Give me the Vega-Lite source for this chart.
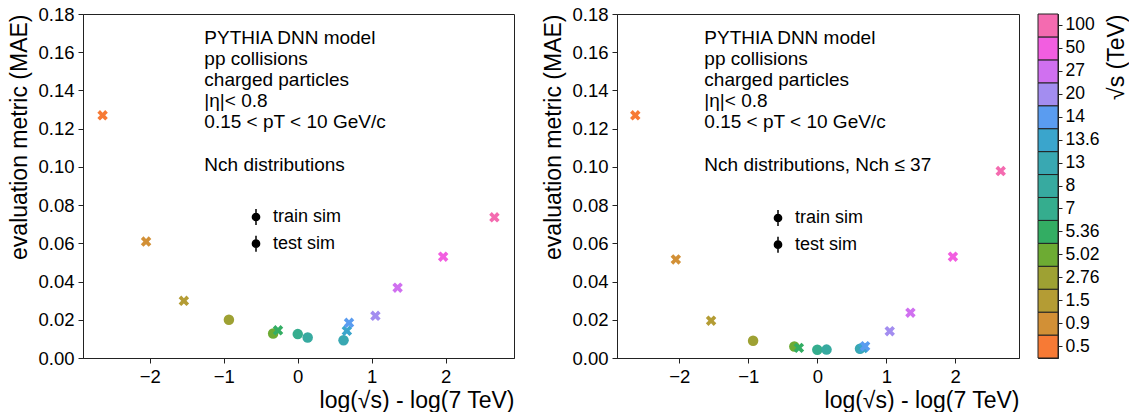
{
  "$schema": "https://vega.github.io/schema/vega-lite/v6.json",
  "padding": {"left": 8, "top": 4, "right": 0, "bottom": 0},
  "background": "white",
  "datasets": {
    "left": [
      {"E": "0.5", "x": -2.639, "mae": 0.127, "sim": "test sim"},
      {"E": "0.9", "x": -2.051, "mae": 0.0609, "sim": "test sim"},
      {"E": "1.5", "x": -1.540, "mae": 0.0299, "sim": "test sim"},
      {"E": "2.76", "x": -0.931, "mae": 0.0200, "sim": "train sim"},
      {"E": "5.02", "x": -0.333, "mae": 0.0128, "sim": "train sim"},
      {"E": "5.36", "x": -0.267, "mae": 0.0145, "sim": "test sim"},
      {"E": "7", "x": 0.0, "mae": 0.0125, "sim": "train sim"},
      {"E": "8", "x": 0.134, "mae": 0.0107, "sim": "train sim"},
      {"E": "13", "x": 0.619, "mae": 0.0093, "sim": "train sim"},
      {"E": "13.6", "x": 0.664, "mae": 0.0142, "sim": "test sim"},
      {"E": "14", "x": 0.693, "mae": 0.0184, "sim": "test sim"},
      {"E": "20", "x": 1.050, "mae": 0.0221, "sim": "test sim"},
      {"E": "27", "x": 1.350, "mae": 0.0368, "sim": "test sim"},
      {"E": "50", "x": 1.966, "mae": 0.0530, "sim": "test sim"},
      {"E": "100", "x": 2.659, "mae": 0.0736, "sim": "test sim"}
    ],
    "right": [
      {"E": "0.5", "x": -2.639, "mae": 0.127, "sim": "test sim"},
      {"E": "0.9", "x": -2.051, "mae": 0.0516, "sim": "test sim"},
      {"E": "1.5", "x": -1.540, "mae": 0.0195, "sim": "test sim"},
      {"E": "2.76", "x": -0.931, "mae": 0.0090, "sim": "train sim"},
      {"E": "5.02", "x": -0.333, "mae": 0.0060, "sim": "train sim"},
      {"E": "5.36", "x": -0.267, "mae": 0.0053, "sim": "test sim"},
      {"E": "7", "x": 0.0, "mae": 0.0043, "sim": "train sim"},
      {"E": "8", "x": 0.134, "mae": 0.0044, "sim": "train sim"},
      {"E": "13", "x": 0.619, "mae": 0.0048, "sim": "train sim"},
      {"E": "13.6", "x": 0.664, "mae": 0.0052, "sim": "test sim"},
      {"E": "14", "x": 0.693, "mae": 0.0062, "sim": "test sim"},
      {"E": "20", "x": 1.050, "mae": 0.0140, "sim": "test sim"},
      {"E": "27", "x": 1.350, "mae": 0.0237, "sim": "test sim"},
      {"E": "50", "x": 1.966, "mae": 0.0530, "sim": "test sim"},
      {"E": "100", "x": 2.659, "mae": 0.0978, "sim": "test sim"}
    ]
  },
  "config": {
    "font": "Liberation Sans",
    "view": {"stroke": "#222", "strokeWidth": 1},
    "axis": {
      "grid": false,
      "labelFont": "Liberation Sans",
      "titleFont": "Liberation Sans",
      "labelFontSize": 18.5,
      "titleFontSize": 23,
      "titleFontWeight": "normal",
      "labelColor": "black",
      "titleColor": "black",
      "domainColor": "#222",
      "tickColor": "#222",
      "tickSize": 5,
      "labelPadding": 4,
      "labelOverlap": false,
      "labelSeparation": 0
    },
    "axisY": {"labelOverlap": false},
    "axisLeft": {"labelOverlap": false},
    "axisQuantitative": {"labelOverlap": false},
    "legend": {
      "labelFont": "Liberation Sans",
      "labelFontSize": 18,
      "labelColor": "black",
      "symbolBaseFillColor": "black",
      "symbolBaseStrokeColor": "black"
    }
  },
  "bounds": "flush",
  "spacing": 103,
  "resolve": {"scale": {"opacity": "independent"}, "legend": {"opacity": "independent"}},
  "hconcat": [
    {
      "width": 431,
      "height": 344,
      "layer": [
        {
          "data": {"name": "left"},
          "mark": {"type": "point", "filled": true, "size": 110},
          "encoding": {
            "x": {"field": "x", "type": "quantitative",
                  "scale": {"domain": [-2.904, 2.924], "nice": false, "zero": false},
                  "axis": {"values": [-2, -1, 0, 1, 2], "format": "d", "title": "log(√s) - log(7 TeV)", "titleAnchor": "end", "titlePadding": 4, "labelOverlap": false}},
            "y": {"field": "mae", "type": "quantitative",
                  "scale": {"domain": [0, 0.18], "nice": false},
                  "axis": {"values": [0, 0.02, 0.04, 0.06, 0.08, 0.1, 0.12, 0.14, 0.16, 0.18], "format": ".2f", "title": "evaluation metric (MAE)", "titleAnchor": "end", "titlePadding": 6, "labelOverlap": false, "labelBound": false, "labelFlush": false}},
            "color": {"field": "E", "type": "nominal",
                      "scale": {"domain": ["0.5","0.9","1.5","2.76","5.02","5.36","7","8","13","13.6","14","20","27","50","100"],
                                "range": ["#f77a35","#d29036","#b49c34","#9ea133","#6dab33","#33ad63","#35ad8e","#37aaa0","#39a8b2","#3aa5cc","#5a9cf0","#a38df0","#d070f0","#f25ee0","#f46bb0"]},
                      "legend": null},
            "shape": {"field": "sim", "type": "nominal",
                      "scale": {"domain": ["train sim", "test sim"],
                                "range": ["circle", "M-1,-0.5L-0.5,-1L0,-0.5L0.5,-1L1,-0.5L0.5,0L1,0.5L0.5,1L0,0.5L-0.5,1L-1,0.5L-0.5,0Z"]},
                      "legend": null},
            "opacity": {"field": "sim", "type": "nominal",
                        "scale": {"domain": ["train sim", "test sim"], "range": [1, 1]},
                        "legend": {"title": null, "orient": "none", "legendX": 164, "legendY": 194, "padding": 0,
                                   "rowPadding": 4.7, "labelOffset": 8, "symbolSize": 256,
                                   "symbolType": "M0,-1V1M-0.45,0A0.45,0.45,0,1,1,0.45,0A0.45,0.45,0,1,1,-0.45,0Z",
                                   "symbolFillColor": "black", "symbolStrokeColor": "black", "symbolStrokeWidth": 1.5, "symbolOpacity": 1}}
          }
        },
        {
          "data": {"values": [{}]},
          "mark": {"type": "text", "align": "left", "baseline": "top", "fontSize": 19, "lineHeight": 21.2, "font": "Liberation Sans", "color": "black"},
          "encoding": {
            "x": {"datum": -1.263, "type": "quantitative",
                  "axis": {"values": [-2, -1, 0, 1, 2], "format": "d", "title": "log(√s) - log(7 TeV)", "titleAnchor": "end", "titlePadding": 4, "labelOverlap": false}},
            "y": {"datum": 0.1724, "type": "quantitative",
                  "axis": {"values": [0, 0.02, 0.04, 0.06, 0.08, 0.1, 0.12, 0.14, 0.16, 0.18], "format": ".2f", "title": "evaluation metric (MAE)", "titleAnchor": "end", "titlePadding": 6, "labelOverlap": false, "labelBound": false, "labelFlush": false}},
            "text": {"value": ["PYTHIA DNN model", "pp collisions", "charged particles", "|η|< 0.8", "0.15  < pT < 10 GeV/c"]}
          }
        },
        {
          "data": {"values": [{}]},
          "mark": {"type": "text", "align": "left", "baseline": "top", "fontSize": 19, "font": "Liberation Sans", "color": "black"},
          "encoding": {
            "x": {"datum": -1.263, "type": "quantitative",
                  "axis": {"values": [-2, -1, 0, 1, 2], "format": "d", "title": "log(√s) - log(7 TeV)", "titleAnchor": "end", "titlePadding": 4, "labelOverlap": false}},
            "y": {"datum": 0.1059, "type": "quantitative",
                  "axis": {"values": [0, 0.02, 0.04, 0.06, 0.08, 0.1, 0.12, 0.14, 0.16, 0.18], "format": ".2f", "title": "evaluation metric (MAE)", "titleAnchor": "end", "titlePadding": 6, "labelOverlap": false, "labelBound": false, "labelFlush": false}},
            "text": {"value": "Nch distributions"}
          }
        }
      ]
    },
    {
      "bounds": "flush",
      "spacing": 19,
      "resolve": {"scale": {"opacity": "independent"}, "legend": {"opacity": "independent"}},
      "hconcat": [
        {
          "width": 402,
          "height": 344,
          "layer": [
            {
              "data": {"name": "right"},
              "mark": {"type": "point", "filled": true, "size": 110},
              "encoding": {
                "x": {"field": "x", "type": "quantitative",
                      "scale": {"domain": [-2.904, 2.924], "nice": false, "zero": false},
                      "axis": {"values": [-2, -1, 0, 1, 2], "format": "d", "title": "log(√s) - log(7 TeV)", "titleAnchor": "end", "titlePadding": 4, "labelOverlap": false}},
                "y": {"field": "mae", "type": "quantitative",
                      "scale": {"domain": [0, 0.18], "nice": false},
                      "axis": {"values": [0, 0.02, 0.04, 0.06, 0.08, 0.1, 0.12, 0.14, 0.16, 0.18], "format": ".2f", "title": "evaluation metric (MAE)", "titleAnchor": "end", "titlePadding": 6, "labelOverlap": false, "labelBound": false, "labelFlush": false}},
                "color": {"field": "E", "type": "nominal",
                          "scale": {"domain": ["0.5","0.9","1.5","2.76","5.02","5.36","7","8","13","13.6","14","20","27","50","100"],
                                    "range": ["#f77a35","#d29036","#b49c34","#9ea133","#6dab33","#33ad63","#35ad8e","#37aaa0","#39a8b2","#3aa5cc","#5a9cf0","#a38df0","#d070f0","#f25ee0","#f46bb0"]},
                          "legend": null},
                "shape": {"field": "sim", "type": "nominal",
                          "scale": {"domain": ["train sim", "test sim"],
                                    "range": ["circle", "M-1,-0.5L-0.5,-1L0,-0.5L0.5,-1L1,-0.5L0.5,0L1,0.5L0.5,1L0,0.5L-0.5,1L-1,0.5L-0.5,0Z"]},
                          "legend": null},
                "opacity": {"field": "sim", "type": "nominal",
                            "scale": {"domain": ["train sim", "test sim"], "range": [1, 1]},
                            "legend": {"title": null, "orient": "none", "legendX": 152, "legendY": 195, "padding": 0,
                                       "rowPadding": 4.7, "labelOffset": 8, "symbolSize": 256,
                                       "symbolType": "M0,-1V1M-0.45,0A0.45,0.45,0,1,1,0.45,0A0.45,0.45,0,1,1,-0.45,0Z",
                                       "symbolFillColor": "black", "symbolStrokeColor": "black", "symbolStrokeWidth": 1.5, "symbolOpacity": 1}}
              }
            },
            {
              "data": {"values": [{}]},
              "mark": {"type": "text", "align": "left", "baseline": "top", "fontSize": 19, "lineHeight": 21.2, "font": "Liberation Sans", "color": "black"},
              "encoding": {
                "x": {"datum": -1.638, "type": "quantitative",
                      "axis": {"values": [-2, -1, 0, 1, 2], "format": "d", "title": "log(√s) - log(7 TeV)", "titleAnchor": "end", "titlePadding": 4, "labelOverlap": false}},
                "y": {"datum": 0.1724, "type": "quantitative",
                      "axis": {"values": [0, 0.02, 0.04, 0.06, 0.08, 0.1, 0.12, 0.14, 0.16, 0.18], "format": ".2f", "title": "evaluation metric (MAE)", "titleAnchor": "end", "titlePadding": 6, "labelOverlap": false, "labelBound": false, "labelFlush": false}},
                "text": {"value": ["PYTHIA DNN model", "pp collisions", "charged particles", "|η|< 0.8", "0.15  < pT < 10 GeV/c"]}
              }
            },
            {
              "data": {"values": [{}]},
              "mark": {"type": "text", "align": "left", "baseline": "top", "fontSize": 19, "font": "Liberation Sans", "color": "black"},
              "encoding": {
                "x": {"datum": -1.638, "type": "quantitative",
                      "axis": {"values": [-2, -1, 0, 1, 2], "format": "d", "title": "log(√s) - log(7 TeV)", "titleAnchor": "end", "titlePadding": 4, "labelOverlap": false}},
                "y": {"datum": 0.1059, "type": "quantitative",
                      "axis": {"values": [0, 0.02, 0.04, 0.06, 0.08, 0.1, 0.12, 0.14, 0.16, 0.18], "format": ".2f", "title": "evaluation metric (MAE)", "titleAnchor": "end", "titlePadding": 6, "labelOverlap": false, "labelBound": false, "labelFlush": false}},
                "text": {"value": "Nch distributions, Nch ≤  37"}
              }
            }
          ]
        },
        {
          "width": 20,
          "height": 344,
          "data": {"name": "left"},
          "mark": {"type": "rect", "stroke": "#222", "strokeWidth": 1},
          "encoding": {
            "y": {"field": "E", "type": "ordinal",
                  "sort": ["100","50","27","20","14","13.6","13","8","7","5.36","5.02","2.76","1.5","0.9","0.5"],
                  "scale": {"paddingInner": 0, "paddingOuter": 0},
                  "axis": {"orient": "right", "title": "√s (TeV)", "titleAngle": 270, "titleAnchor": "start", "titleAlign": "right", "titleBaseline": "top", "titlePadding": 6, "titleFontSize": 23, "tickSize": 4, "labelPadding": 3, "labelFontSize": 17.5}},
            "color": {"field": "E", "type": "nominal",
                      "scale": {"domain": ["0.5","0.9","1.5","2.76","5.02","5.36","7","8","13","13.6","14","20","27","50","100"],
                                "range": ["#f77a35","#d29036","#b49c34","#9ea133","#6dab33","#33ad63","#35ad8e","#37aaa0","#39a8b2","#3aa5cc","#5a9cf0","#a38df0","#d070f0","#f25ee0","#f46bb0"]},
                      "legend": null}
          }
        }
      ]
    }
  ]
}
